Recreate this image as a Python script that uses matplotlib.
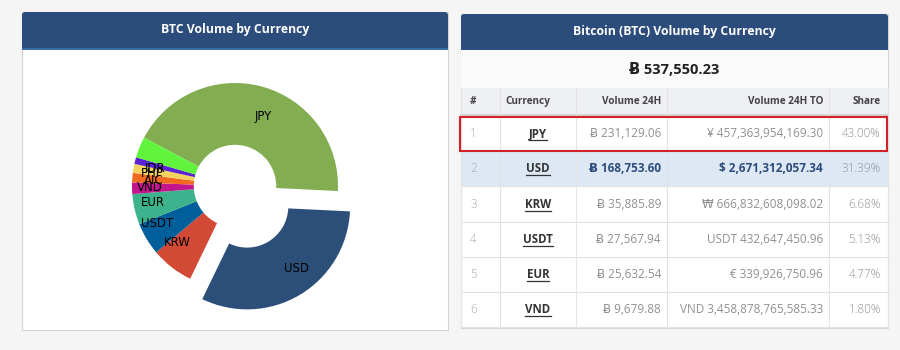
import matplotlib
matplotlib.use('Agg')
import matplotlib.pyplot as plt
from matplotlib.patches import Rectangle, FancyBboxPatch

# pie data (share of BTC volume, %)
pie_labels = ['JPY', 'USD', 'KRW', 'USDT', 'EUR', 'VND', 'AIC', 'PHP', 'IDR', '']
pie_share = [43.00, 31.39, 6.68, 5.13, 4.77, 1.80, 1.50, 1.40, 1.05, 3.28]
pie_colors = ['#82ad50', '#2c4f7a', '#d24a35', '#005f9a', '#3cb38c',
              '#c2158e', '#f06a20', '#f3d25e', '#5b22d1', '#60f53c']
pie_explode = [0, 0.23, 0, 0, 0, 0, 0, 0, 0, 0]

# table data
ranks = [1, 2, 3, 4, 5, 6]
currencies = ['JPY', 'USD', 'KRW', 'USDT', 'EUR', 'VND']
volume_btc = [231129.06, 168753.60, 35885.89, 27567.94, 25632.54, 9679.88]
to_prefix = ['¥', '$', '₩', 'USDT', '€', 'VND']
volume_to = [457363954169.30, 2671312057.34, 666832608098.02,
             432647450.96, 339926750.96, 3458878765585.33]
shares = [43.00, 31.39, 6.68, 5.13, 4.77, 1.80]
total_btc = 537550.23
header = ['#', 'Currency', 'Volume 24H', 'Volume 24H TO', 'Share']

FAM = ['Open Sans', 'DejaVu Sans']
BLUE = '#2c4c7b'

fig = plt.figure(figsize=(9, 3.5), dpi=100)
fig.patch.set_facecolor('#f5f5f5')

# background axes in pixel units
bg = fig.add_axes([0, 0, 1, 1])
bg.set_xlim(0, 900)
bg.set_ylim(350, 0)
bg.axis('off')


def panel(x0, x1, y0, y1, title, title_y):
    bg.add_patch(Rectangle((x0, y0), x1 - x0, y1 - y0, facecolor='white',
                           edgecolor='#d6d6d6', lw=0.8))
    bg.add_patch(FancyBboxPatch((x0, y0), x1 - x0, 36, boxstyle='round,pad=0,rounding_size=3',
                                facecolor=BLUE, edgecolor='none'))
    bg.add_patch(Rectangle((x0, y0 + 18), x1 - x0, 18, facecolor=BLUE, edgecolor='none'))
    bg.text((x0 + x1) / 2, title_y, title, ha='center', va='center', color='white',
            fontsize=8.8, fontweight='bold', family=FAM)


# left panel
panel(22, 448, 12, 330, 'BTC Volume by Currency', 30)
bg.add_patch(Rectangle((22, 47.5), 426, 2, facecolor='#3b6aa8', edgecolor='none'))

# right panel
panel(461, 888, 14, 328, 'Bitcoin (BTC) Volume by Currency', 32)
bg.add_patch(Rectangle((461, 50), 427, 38, facecolor='#fafafa', edgecolor='none'))
bg.text(674.5, 70, 'Ƀ ' + f'{total_btc:,.2f}', ha='center', va='center',
        fontsize=10.5, fontweight='bold', color='#222222', family=FAM)

# header row
col_x = [461, 500, 576, 667, 829, 888]
bg.add_patch(Rectangle((461, 88), 427, 27, facecolor='#eff0f4', edgecolor='none'))
bg.plot([461, 888], [115, 115], color='#d4d4d4', lw=1.5)
head_x = [470, 505, 661, 823, 881]
head_ha = ['left', 'left', 'right', 'right', 'right']
for hx, ha, h in zip(head_x, head_ha, header):
    bg.text(hx, 101.5, h, ha=ha, va='center', fontsize=7.2, fontweight='bold',
            color='#444444', family=FAM)

# body rows
top = 116
row_h = 35.2
n = len(ranks)
for i in range(n):
    y0 = top + i * row_h
    if i == 1:
        bg.add_patch(Rectangle((461, y0), 427, row_h, facecolor='#dde8f4', edgecolor='none'))
    bg.plot([461, 888], [y0 + row_h, y0 + row_h], color='#e2e2e2', lw=0.8)
for cx in col_x:
    bg.plot([cx, cx], [88, top + n * row_h], color='#e4e4e4', lw=0.8)

cur_texts = []
for i in range(n):
    yc = top + i * row_h + row_h / 2
    bold = i == 1
    vcol = BLUE if bold else '#909090'
    vw = 'bold' if bold else 'normal'
    bg.text(470, yc, str(ranks[i]), ha='left', va='center', fontsize=8.5,
            color='#aaaaaa', fontweight='light', family=FAM)
    t = bg.text(538, yc, currencies[i], ha='center', va='center', fontsize=8.3,
                color='#333333', fontweight='bold', family=FAM)
    cur_texts.append((t, yc))
    bg.text(661, yc, 'Ƀ ' + f'{volume_btc[i]:,.2f}', ha='right', va='center',
            fontsize=8.5, color=vcol, fontweight=vw, family=FAM)
    bg.text(823, yc, to_prefix[i] + ' ' + f'{volume_to[i]:,.2f}', ha='right', va='center',
            fontsize=8.5, color=vcol, fontweight=vw, family=FAM)
    bg.text(881, yc, f'{shares[i]:.2f}%', ha='right', va='center', fontsize=8.5,
            color='#909090', fontweight='light', family=FAM)

# red highlight around first row
bg.add_patch(Rectangle((460, top + 1), 427, row_h - 1.5, facecolor='none',
                       edgecolor='#d42027', lw=1.5, zorder=5))

# underline currency links
fig.canvas.draw()
inv = bg.transData.inverted()
for t, yc in cur_texts:
    ext = t.get_window_extent()
    (x0, _), (x1, _) = inv.transform([[ext.x0, 0], [ext.x1, 0]])
    bg.plot([x0, x1], [yc + 6.5, yc + 6.5], color='#333333', lw=0.9)

# donut pie
cx, cy, R = 235, 186, 103
half = 1.3 * R
ax = fig.add_axes([(cx - half) / 900, (350 - cy - half) / 350, 2 * half / 900, 2 * half / 350])
ax.pie(pie_share, labels=pie_labels, colors=pie_colors, explode=pie_explode,
       startangle=152, counterclock=False, labeldistance=0.7,
       wedgeprops=dict(width=0.6), textprops=dict(fontsize=8.5, color='black'))
ax.set_xlim(-1.3, 1.3)
ax.set_ylim(-1.3, 1.3)
ax.axis('off')

fig.savefig('out.png', dpi=100, facecolor=fig.get_facecolor())
